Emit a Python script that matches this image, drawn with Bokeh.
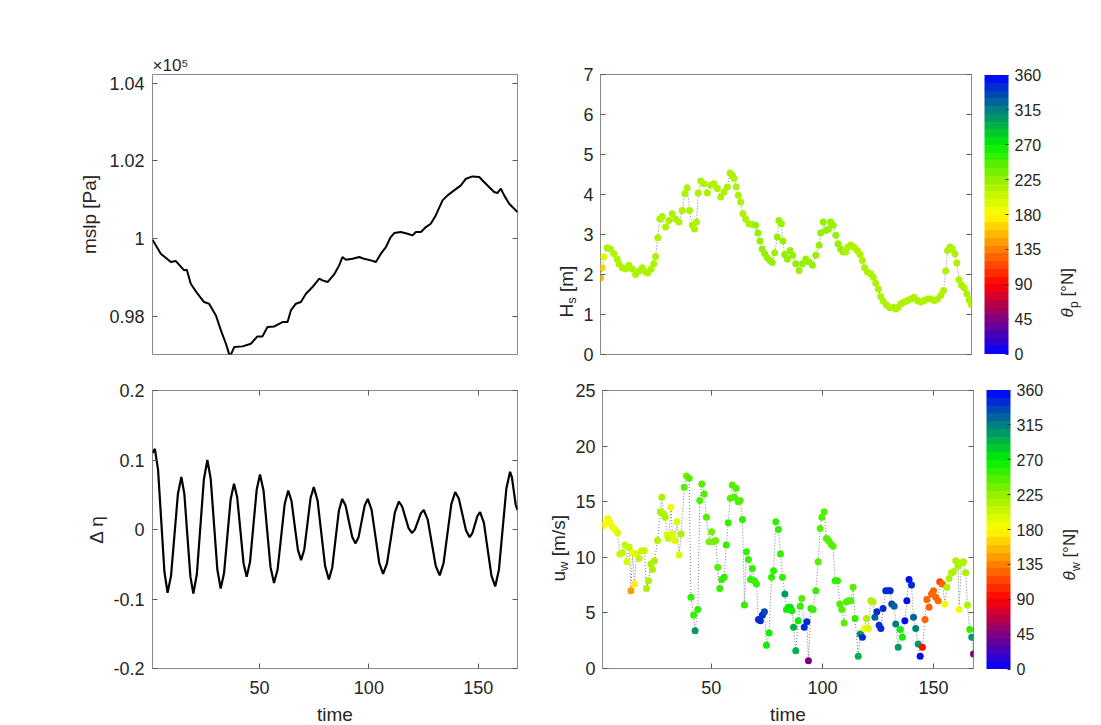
import numpy as np
from bokeh.plotting import figure
from bokeh.models import (Range1d, LinearAxis, FixedTicker, ColorBar, LinearColorMapper,
                          Label, ColumnDataSource, Title)
from bokeh.transform import linear_cmap
from bokeh.layouts import column, row
from bokeh.embed import file_html
from bokeh.resources import INLINE

# ---------------- data ----------------
# mean sea level pressure [Pa]
mslp_time = [1.0, 4.8, 9.4, 11.7, 15.5, 16.7, 18.5, 21.6, 24.6, 26.9,
             30.0, 32.3, 34.6, 36.1, 36.8, 38.4, 42.2, 46.0, 49.0, 51.3,
             53.6, 56.7, 60.5, 62.8, 64.3, 66.6, 68.9, 71.2, 74.2, 77.3,
             78.8, 81.1, 84.1, 86.4, 87.9, 89.5, 92.5, 95.6, 97.8, 100.9,
             103.2, 105.5, 107.8, 110.0, 111.6, 114.6, 117.7, 120.0, 121.5, 123.8,
             126.1, 128.3, 130.6, 133.7, 136.0, 139.0, 142.1, 144.4, 147.4, 150.5,
             152.7, 155.0, 157.3, 158.8, 160.4, 161.9, 164.2, 168.0]
mslp_pa = [99972, 99612, 99397, 99423, 99183, 99200, 98840, 98583, 98369, 98326,
           98026, 97640, 97297, 97023, 97010, 97212, 97229, 97297, 97486, 97486,
           97726, 97743, 97854, 97854, 98154, 98326, 98369, 98583, 98754, 98969,
           98926, 98883, 99080, 99312, 99526, 99457, 99483, 99526, 99483, 99440,
           99397, 99612, 99783, 100040, 100143, 100169, 100126, 100083, 100169, 100169,
           100297, 100383, 100597, 100983, 101112, 101240, 101369, 101540, 101600, 101583,
           101454, 101326, 101197, 101172, 101283, 101112, 100897, 100683]

# sea level difference
deta_time = [1.0, 2.1, 3.55, 5.0, 6.45, 7.9, 9.48, 11.05, 12.63, 14.2,
             15.58, 16.95, 18.33, 19.7, 21.3, 22.9, 24.5, 26.1, 27.63, 29.15,
             30.68, 32.2, 33.73, 35.25, 36.78, 38.3, 39.75, 41.2, 42.65, 44.1,
             45.63, 47.15, 48.68, 50.2, 51.8, 53.4, 55.0, 56.6, 58.23, 59.85,
             61.48, 63.1, 64.58, 66.05, 67.53, 69.0, 70.45, 71.9, 73.35, 74.8,
             76.53, 78.25, 79.98, 81.7, 83.23, 84.75, 86.28, 87.8, 89.33, 90.85,
             92.38, 93.9, 95.3, 96.7, 98.1, 99.5, 101.25, 103.0, 104.75, 106.5,
             108.3, 110.1, 111.9, 113.7, 115.2, 116.7, 118.2, 119.7, 121.05, 122.4,
             123.75, 125.1, 126.93, 128.75, 130.58, 132.4, 134.18, 135.95, 137.73, 139.5,
             141.15, 142.8, 144.45, 146.1, 147.3, 148.5, 149.7, 150.9, 152.63, 154.35,
             156.08, 157.8, 159.5, 161.2, 162.9, 164.6, 165.45, 166.3, 167.15, 168.0]
deta = [0.110, 0.116, 0.0858, 0.0125, -0.0608, -0.091, -0.0667, -0.0077, 0.0512, 0.0755,
        0.051, -0.0083, -0.0675, -0.092, -0.064, 0.004, 0.072, 0.100, 0.073, 0.0075,
        -0.058, -0.085, -0.063, -0.0095, 0.044, 0.066, 0.0464, -0.001, -0.0484, -0.068,
        -0.0465, 0.0055, 0.0575, 0.079, 0.0562, 0.001, -0.0542, -0.077, -0.0576, -0.0105,
        0.0366, 0.056, 0.0414, 0.006, -0.0294, -0.044, -0.0287, 0.0085, 0.0457, 0.061,
        0.0416, -0.0055, -0.0526, -0.072, -0.055, -0.014, 0.027, 0.044, 0.0347, 0.012,
        -0.0107, -0.020, -0.0107, 0.012, 0.0347, 0.044, 0.0282, -0.010, -0.0482, -0.064,
        -0.0488, -0.012, 0.0248, 0.040, 0.0334, 0.0175, 0.0016, -0.005, -0.0002, 0.0115,
        0.0232, 0.028, 0.0143, -0.019, -0.0523, -0.066, -0.0485, -0.006, 0.0365, 0.054,
        0.0445, 0.0215, -0.0015, -0.011, -0.0057, 0.007, 0.0197, 0.025, 0.0094, -0.0285,
        -0.0664, -0.082, -0.0579, 0.0005, 0.0589, 0.083, 0.075, 0.0555, 0.036, 0.028]

# significant wave height [m] and peak direction [deg N]
hs_time = [1.0, 1.8, 2.5, 4.0, 5.5, 7.0, 8.5, 9.3, 10.8, 12.3,
           13.8, 15.3, 16.8, 18.3, 19.8, 21.3, 22.3, 23.8, 25.0, 25.8,
           26.8, 27.7, 28.8, 30.3, 31.8, 33.3, 34.8, 36.3, 37.8, 39.0,
           40.0, 41.1, 42.3, 43.3, 44.2, 45.0, 46.1, 47.6, 49.1, 50.6,
           52.1, 53.6, 55.1, 56.6, 58.1, 59.3, 60.3, 61.1, 62.1, 63.0,
           64.1, 65.1, 66.3, 67.8, 69.3, 70.8, 71.9, 72.8, 73.8, 74.9,
           76.1, 77.3, 78.3, 79.4, 80.6, 81.3, 82.4, 83.1, 83.9, 85.1,
           86.3, 87.5, 88.9, 90.4, 91.9, 93.4, 94.9, 96.4, 97.9, 99.4,
           100.1, 101.3, 102.4, 103.6, 104.6, 105.8, 106.9, 107.9, 109.1, 110.3,
           111.4, 112.4, 113.6, 115.1, 116.6, 117.8, 118.9, 119.9, 121.1, 122.6,
           123.8, 124.9, 126.1, 127.1, 128.3, 129.8, 131.3, 132.9, 133.9, 135.0,
           136.2, 137.7, 139.2, 140.7, 142.2, 143.7, 145.2, 146.7, 148.2, 149.7,
           151.2, 152.7, 154.2, 155.4, 156.4, 157.2, 158.4, 159.4, 160.5, 161.4,
           162.4, 163.5, 164.7, 165.9, 166.9, 168.0]
hs = [1.91, 2.17, 2.44, 2.67, 2.64, 2.52, 2.39, 2.27, 2.17, 2.14,
      2.23, 2.14, 2.00, 2.09, 2.17, 2.06, 2.04, 2.14, 2.27, 2.45,
      2.92, 3.39, 3.45, 3.19, 3.35, 3.52, 3.39, 3.31, 3.60, 4.02,
      4.17, 3.60, 3.23, 3.14, 3.31, 4.04, 4.34, 4.27, 4.04, 4.23,
      4.27, 4.15, 3.94, 4.06, 4.19, 4.54, 4.48, 4.40, 4.19, 3.98,
      3.81, 3.52, 3.39, 3.27, 3.25, 3.23, 3.04, 2.84, 2.64, 2.52,
      2.42, 2.35, 2.30, 2.54, 2.94, 3.35, 3.27, 2.84, 2.50, 2.39,
      2.60, 2.48, 2.27, 2.10, 2.27, 2.39, 2.31, 2.23, 2.48, 2.73,
      3.04, 3.31, 3.10, 3.14, 3.31, 3.23, 2.98, 2.77, 2.64, 2.56,
      2.56, 2.69, 2.74, 2.69, 2.60, 2.50, 2.35, 2.17, 2.06, 2.02,
      1.93, 1.78, 1.64, 1.45, 1.33, 1.23, 1.17, 1.18, 1.14, 1.18,
      1.27, 1.31, 1.35, 1.39, 1.43, 1.35, 1.31, 1.35, 1.39, 1.39,
      1.35, 1.39, 1.48, 1.60, 2.09, 2.60, 2.69, 2.64, 2.52, 2.29,
      1.87, 1.73, 1.67, 1.52, 1.37, 1.25]
theta_p = [150, 165, 190, 210, 210, 212, 212, 212, 212, 212,
           212, 212, 212, 212, 212, 212, 212, 212, 212, 214,
           214, 214, 214, 214, 214, 214, 214, 214, 214, 214,
           214, 214, 214, 214, 214, 216, 216, 216, 216, 216,
           216, 216, 216, 216, 216, 216, 216, 216, 218, 218,
           218, 218, 218, 218, 218, 220, 220, 220, 220, 220,
           220, 220, 220, 220, 220, 220, 220, 220, 220, 220,
           220, 220, 220, 220, 220, 220, 220, 220, 220, 220,
           220, 220, 220, 220, 220, 220, 220, 220, 220, 220,
           218, 218, 218, 218, 218, 218, 218, 218, 218, 218,
           218, 218, 218, 218, 218, 218, 218, 218, 218, 218,
           216, 216, 216, 216, 216, 216, 216, 216, 216, 216,
           216, 216, 216, 216, 214, 214, 214, 214, 214, 214,
           212, 212, 212, 212, 212, 212]

# wind speed [m/s] and wind direction [deg N]
uw_time = [1.0, 2.1, 3.3, 4.5, 5.5, 6.7, 7.8, 8.8, 10.0, 11.1,
           12.0, 13.0, 13.8, 14.5, 15.4, 16.3, 17.5, 18.6, 19.8, 20.8,
           21.7, 22.8, 23.5, 24.4, 25.8, 27.0, 27.7, 28.5, 29.2, 30.0,
           30.7, 31.8, 32.5, 33.6, 34.5, 35.5, 36.4, 37.8, 38.8, 40.0,
           40.8, 42.0, 42.7, 43.9, 44.8, 45.7, 46.8, 47.8, 49.0, 50.1,
           51.0, 52.0, 52.9, 53.8, 54.7, 55.8, 56.7, 57.6, 58.5, 59.4,
           60.3, 61.2, 62.1, 63.0, 64.0, 64.9, 65.8, 66.7, 67.6, 68.5,
           69.4, 70.3, 71.2, 72.1, 73.0, 73.9, 74.8, 76.0, 77.1, 78.0,
           79.0, 80.2, 81.1, 82.0, 83.1, 83.8, 84.7, 85.5, 86.2, 87.0,
           88.0, 89.1, 90.0, 90.7, 91.8, 93.0, 93.7, 94.8, 95.8, 97.0,
           98.1, 99.0, 99.7, 100.8, 101.8, 102.7, 103.8, 104.8, 105.7, 106.8,
           107.8, 108.7, 109.8, 110.8, 111.7, 112.8, 113.8, 114.7, 116.1, 117.0,
           118.0, 118.9, 119.8, 120.7, 121.8, 122.8, 123.6, 124.5, 125.5, 126.3,
           127.3, 128.5, 129.6, 130.5, 131.2, 132.3, 133.0, 134.1, 135.0, 136.0,
           137.1, 138.0, 139.0, 140.1, 141.0, 142.0, 143.1, 144.0, 145.0, 146.2,
           147.0, 148.0, 149.1, 150.0, 151.0, 152.1, 152.8, 154.0, 155.1, 156.0,
           157.0, 158.1, 159.0, 160.0, 161.1, 161.5, 162.6, 163.5, 164.5, 165.3,
           166.3, 167.2, 168.0]
uw = [12.8, 13.0, 13.5, 13.1, 12.7, 12.5, 12.2, 10.3, 10.4, 11.1,
      9.6, 10.9, 7.0, 10.4, 7.6, 10.3, 9.9, 10.6, 10.6, 7.2,
      7.9, 9.4, 8.9, 9.7, 11.5, 14.1, 15.4, 13.9, 13.6, 12.0,
      11.7, 14.5, 12.1, 11.5, 13.2, 10.2, 12.1, 16.3, 17.3, 17.1,
      6.4, 4.8, 3.4, 5.3, 15.1, 16.6, 15.7, 13.6, 11.4, 12.3,
      11.4, 11.5, 9.1, 7.2, 8.0, 8.2, 11.1, 13.1, 15.3, 16.5,
      15.4, 16.2, 15.0, 15.1, 13.4, 5.7, 10.5, 9.8, 8.0, 9.0,
      7.9, 7.6, 4.4, 4.3, 4.8, 5.1, 2.1, 3.2, 8.2, 8.8,
      13.2, 12.5, 10.3, 8.2, 6.7, 5.3, 5.5, 5.5, 5.2, 3.7,
      1.6, 4.3, 5.6, 6.3, 3.7, 4.2, 0.7, 5.4, 5.3, 7.0,
      9.6, 12.6, 13.6, 14.1, 11.7, 11.5, 11.2, 11.0, 7.9, 7.9,
      5.8, 5.3, 4.1, 6.0, 6.1, 6.1, 7.3, 4.5, 1.1, 3.1,
      2.8, 3.6, 4.5, 3.6, 6.1, 6.0, 4.6, 5.1, 3.9, 3.6,
      5.4, 7.0, 7.0, 7.0, 5.8, 5.6, 4.0, 1.9, 3.5, 2.8,
      4.3, 6.1, 8.0, 7.5, 4.6, 3.6, 2.2, 1.1, 1.9, 4.4,
      6.2, 5.5, 6.7, 7.0, 6.4, 6.1, 7.8, 7.6, 5.8, 7.3,
      8.1, 8.6, 8.7, 9.7, 9.2, 5.3, 9.5, 9.6, 8.6, 5.7,
      3.5, 2.8, 1.3]
theta_w = [175, 180, 182, 185, 185, 185, 190, 205, 205, 205,
           195, 200, 140, 185, 170, 190, 200, 205, 205, 215,
           215, 210, 210, 210, 215, 215, 215, 215, 210, 195,
           200, 185, 190, 195, 190, 195, 210, 240, 235, 240,
           255, 255, 300, 255, 245, 245, 245, 245, 230, 230,
           230, 235, 245, 250, 250, 250, 250, 250, 245, 245,
           245, 245, 245, 245, 250, 255, 250, 250, 250, 250,
           250, 250, 345, 345, 340, 335, 260, 260, 255, 250,
           250, 250, 250, 250, 300, 265, 265, 270, 265, 295,
           295, 260, 250, 245, 345, 345, 40, 250, 250, 250,
           245, 240, 240, 240, 240, 240, 240, 240, 250, 250,
           240, 240, 245, 245, 245, 245, 245, 250, 295, 305,
           340, 185, 210, 190, 215, 215, 320, 345, 345, 345,
           345, 345, 345, 345, 330, 320, 310, 300, 265, 265,
           350, 350, 350, 345, 320, 315, 305, 350, 95, 125,
           125, 125, 125, 125, 125, 125, 115, 120, 180, 210,
           215, 215, 215, 215, 215, 185, 215, 215, 215, 215,
           255, 300, 40]

time_ticks = [50, 100, 150]
mslp_ticks = [98000, 100000, 102000, 104000]
mslp_tick_labels = ["0.98", "1", "1.02", "1.04"]
deta_ticks = [-0.2, -0.1, 0, 0.1, 0.2]
deta_tick_labels = ["-0.2", "-0.1", "0", "0.1", "0.2"]
hs_ticks = [0, 1, 2, 3, 4, 5, 6, 7]
uw_ticks = [0, 5, 10, 15, 20, 25]
dir_ticks = [0, 45, 90, 135, 180, 225, 270, 315, 360]

# ---------------- style ----------------
FONT = "Liberation Sans"
TXT = "#262626"
BOX = "#8a8a8a"
TICKC = "#5a5a5a"


def cyc_rgb(deg):
    anchors = [(0, (0, 0, 255)), (45, (128, 0, 128)), (90, (255, 0, 0)),
               (135, (255, 128, 0)), (180, (255, 255, 0)), (225, (150, 240, 0)),
               (270, (0, 240, 0)), (315, (0, 128, 128)), (360, (0, 0, 255))]
    for (a0, c0), (a1, c1) in zip(anchors[:-1], anchors[1:]):
        if a0 <= deg <= a1:
            f = (deg - a0) / (a1 - a0)
            return tuple(int(round(c0[i] + (c1[i] - c0[i]) * f)) for i in range(3))
    return anchors[-1][1]


PALETTE = ["#%02x%02x%02x" % cyc_rgb(5 + 10 * i) for i in range(36)]
mapper = LinearColorMapper(palette=PALETTE, low=0, high=360)


def make_fig(fw, fh, y_range, left, right, top, bottom):
    p = figure(frame_width=fw, frame_height=fh, x_range=Range1d(1, 168), y_range=y_range,
               min_border_left=left, min_border_right=right, min_border_top=top,
               min_border_bottom=bottom, output_backend="svg", toolbar_location=None,
               background_fill_color="white", border_fill_color="white",
               outline_line_color=BOX, outline_line_width=1)
    p.xgrid.visible = False
    p.ygrid.visible = False
    return p


def strip(fw, fh):
    """Blank figure used only as a canvas for the rotated axis/colourbar titles."""
    s = figure(frame_width=fw, frame_height=fh, x_range=Range1d(0, fw), y_range=Range1d(0, fh),
               x_axis_type=None, y_axis_type=None, min_border=0, output_backend="svg",
               toolbar_location=None, outline_line_color=None,
               background_fill_color="white", border_fill_color="white")
    s.grid.visible = False
    return s


def style_axis(ax, ticks, labels=None, hidden=False, standoff=8):
    ax.ticker = FixedTicker(ticks=ticks, minor_ticks=[])
    ax.major_tick_in = 5
    ax.major_tick_out = 0
    ax.major_tick_line_color = TICKC
    ax.minor_tick_line_color = None
    ax.axis_line_color = None
    ax.major_label_text_font = FONT
    ax.major_label_text_color = TXT
    ax.major_label_standoff = standoff
    if hidden:
        ax.major_label_text_font_size = "0px"
        ax.major_label_overrides = {t: "" for t in ticks}
    else:
        ax.major_label_text_font_size = "18px"
        if labels is not None:
            ax.major_label_overrides = dict(zip(ticks, labels))
    ax.axis_label_text_font = FONT
    ax.axis_label_text_font_size = "19px"
    ax.axis_label_text_font_style = "normal"
    ax.axis_label_text_color = TXT


def mirror(p, side, ticks):
    ax = LinearAxis()
    style_axis(ax, ticks, hidden=True, standoff=0)
    p.add_layout(ax, side)


def add_label(p, x, y, text, size, italic=False):
    p.add_layout(Label(x=x, y=y, text=text, angle=np.pi / 2, text_font=FONT,
                       text_font_size=f"{size}px", text_color=TXT,
                       text_font_style="italic" if italic else "normal",
                       text_align="left", text_baseline="alphabetic"))


def add_colorbar(p):
    cb = ColorBar(color_mapper=mapper, ticker=FixedTicker(ticks=dir_ticks, minor_ticks=[]),
                  width=24, height=279, location="center_left", margin=0, padding=13,
                  label_standoff=6, major_label_text_font=FONT,
                  major_label_text_font_size="16px", major_label_text_color=TXT,
                  major_tick_line_color="#333333", major_tick_in=3, major_tick_out=0,
                  minor_tick_line_color=None, bar_line_color=None,
                  background_fill_alpha=0, border_line_color=None)
    p.add_layout(cb, "right")


# ---------- top-left: mslp ----------
p1 = make_fig(365, 280, Range1d(97020, 104220), 152, 13, 74, 18)
p1.xaxis.visible = False
style_axis(p1.yaxis[0], mslp_ticks, mslp_tick_labels, standoff=8)
p1.yaxis.axis_label = "mslp [Pa]"
p1.yaxis.axis_label_standoff = 6
mirror(p1, "right", mslp_ticks)
p1.line(mslp_time, mslp_pa, line_color="black", line_width=2)
p1.add_layout(Title(text="×10⁵", align="left", standoff=0, text_font=FONT,
                    text_font_size="17px", text_font_style="normal", text_color=TXT), "above")

# label strip between the top panels
s1 = strip(50, 372)
add_label(s1, 36, 129, "H", 19)
add_label(s1, 41, 142.7, "s", 13)
add_label(s1, 36, 154.5, "[m]", 19)

# ---------- top-right: Hs ----------
p2 = make_fig(371, 280, Range1d(0, 7), 20, 83, 74, 18)
p2.xaxis.visible = False
style_axis(p2.yaxis[0], hs_ticks, standoff=7)
mirror(p2, "right", hs_ticks)
src_hs = ColumnDataSource(dict(t=hs_time, v=hs, th=theta_p))
p2.line("t", "v", source=src_hs, line_color="#404040", line_width=0.7, line_dash="1 2")
p2.scatter("t", "v", source=src_hs, size=7,
           fill_color=linear_cmap("th", PALETTE, 0, 360), line_color=None)
add_colorbar(p2)

c1 = strip(46, 372)
add_label(c1, 10, 129, "θ", 17, italic=True)
add_label(c1, 16, 138.5, "p", 12)
add_label(c1, 10, 149.9, "[°N]", 17)

# ---------- bottom-left: delta eta ----------
p3 = make_fig(365, 278, Range1d(-0.2, 0.2), 152, 13, 18, 56)
style_axis(p3.xaxis[0], time_ticks, standoff=12)
style_axis(p3.yaxis[0], deta_ticks, deta_tick_labels, standoff=8)
p3.xaxis.axis_label = "time"
p3.xaxis.axis_label_standoff = 7
p3.yaxis.axis_label = "Δ η"
p3.yaxis.axis_label_standoff = 3
mirror(p3, "right", deta_ticks)
mirror(p3, "above", time_ticks)
p3.line(deta_time, deta, line_color="black", line_width=2.2)

s3 = strip(42, 352)
add_label(s3, 28, 161, "u", 19)
add_label(s3, 33, 171.6, "w", 13)
add_label(s3, 28, 186.3, "[m/s]", 19)

# ---------- bottom-right: wind ----------
p4 = make_fig(371, 278, Range1d(0, 25), 28, 83, 18, 56)
style_axis(p4.xaxis[0], time_ticks, standoff=12)
style_axis(p4.yaxis[0], uw_ticks, standoff=7)
p4.xaxis.axis_label = "time"
p4.xaxis.axis_label_standoff = 7
mirror(p4, "right", uw_ticks)
mirror(p4, "above", time_ticks)
src_uw = ColumnDataSource(dict(t=uw_time, v=uw, th=theta_w))
p4.line("t", "v", source=src_uw, line_color="#404040", line_width=0.7, line_dash="1 2")
p4.scatter("t", "v", source=src_uw, size=7,
           fill_color=linear_cmap("th", PALETTE, 0, 360), line_color=None)
add_colorbar(p4)

c3 = strip(46, 352)
add_label(c3, 10, 162, "θ", 17, italic=True)
add_label(c3, 16, 171.5, "w", 12)
add_label(c3, 10, 184.9, "[°N]", 17)

layout = column(row(p1, s1, p2, c1), row(p3, s3, p4, c3))
open("out.html", "w").write(file_html(layout, INLINE))
